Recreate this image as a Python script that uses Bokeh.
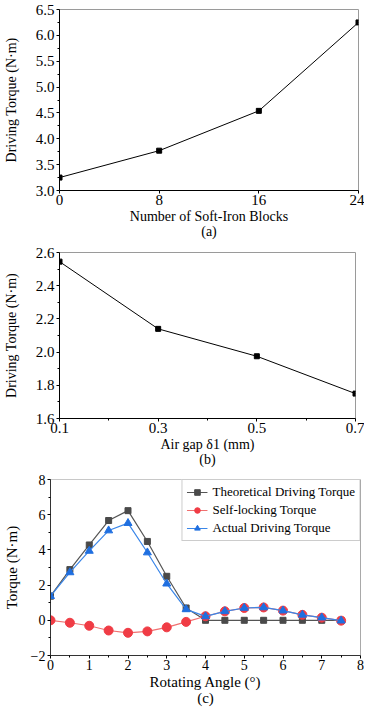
from bokeh.plotting import figure
from bokeh.layouts import column, row
from bokeh.models import FixedTicker, Span, Legend, LegendItem, Range1d, NumeralTickFormatter
from bokeh.embed import file_html
from bokeh.resources import INLINE

FONT = "Liberation Serif"

# ---- data (a)
blocks = [0, 8, 16, 24]
torque_a = [3.25, 3.77, 4.54, 6.25]
# ---- data (b)
gap = [0.1, 0.3, 0.5, 0.7]
torque_b = [2.545, 2.14, 1.975, 1.75]
# ---- data (c)
angle = [0, 0.5, 1, 1.5, 2, 2.5, 3, 3.5, 4, 4.5, 5, 5.5, 6, 6.5, 7, 7.5]
theoretical = [1.37, 2.88, 4.28, 5.67, 6.23, 4.48, 2.50, 0.70, 0, 0, 0, 0, 0, 0, 0, 0]
self_locking = [0, -0.14, -0.31, -0.58, -0.71, -0.63, -0.40, -0.09, 0.23, 0.51, 0.70, 0.73, 0.55, 0.31, 0.15, -0.02]
actual = [1.37, 2.72, 3.94, 5.10, 5.52, 3.85, 2.08, 0.62, 0.22, 0.51, 0.70, 0.73, 0.55, 0.31, 0.15, -0.02]

W = 364


def style(p, tick_size, label_size, ystandoff):
    p.background_fill_color = "white"
    p.border_fill_color = "white"
    p.grid.visible = False
    p.outline_line_color = "#9a9a9a"
    p.outline_line_width = 1
    for ax in (p.xaxis[0], p.yaxis[0]):
        ax.axis_line_color = "black"
        ax.major_tick_line_color = "black"
        ax.minor_tick_line_color = "black"
        ax.major_tick_in = 0
        ax.major_tick_out = 3
        ax.minor_tick_in = 0
        ax.minor_tick_out = 2
        ax.major_label_text_font = FONT
        ax.major_label_text_font_size = tick_size
        ax.major_label_text_color = "black"
        ax.axis_label_text_font = FONT
        ax.axis_label_text_font_size = label_size
        ax.axis_label_text_font_style = "normal"
        ax.axis_label_text_color = "black"
        ax.axis_label_text_line_height = 1.0
    p.xaxis[0].major_label_standoff = 1
    p.xaxis[0].axis_label_standoff = 1
    p.yaxis[0].major_label_standoff = 2
    p.yaxis[0].axis_label_standoff = ystandoff


# ---------------- (a)
pa = figure(width=W, height=244, output_backend="svg", toolbar_location=None,
            x_range=Range1d(0, 24), y_range=Range1d(3.0, 6.5),
            min_border_left=59, min_border_right=W - 358, min_border_top=9, min_border_bottom=54)
style(pa, "15px", "14px", 14)
pa.xaxis.axis_label = "Number of Soft-Iron Blocks\n(a)"
pa.yaxis.axis_label = "Driving Torque (N·m)"
pa.xaxis.ticker = FixedTicker(ticks=[0, 8, 16, 24], minor_ticks=[])
pa.yaxis.ticker = FixedTicker(ticks=[3.0, 3.5, 4.0, 4.5, 5.0, 5.5, 6.0, 6.5],
                              minor_ticks=[3.25, 3.75, 4.25, 4.75, 5.25, 5.75, 6.25])
pa.yaxis.formatter = NumeralTickFormatter(format="0.0")
pa.line(blocks, torque_a, line_color="black", line_width=1)
pa.scatter(blocks, torque_a, marker="square", size=5, fill_color="black", line_color="black")

# ---------------- (b)
pb = figure(width=W, height=227, output_backend="svg", toolbar_location=None,
            x_range=Range1d(0.1, 0.7), y_range=Range1d(1.6, 2.6),
            min_border_left=59, min_border_right=W - 355, min_border_top=8, min_border_bottom=53)
style(pb, "15px", "14px", 14)
pb.xaxis.axis_label = "Air gap δ1 (mm)\n(b)"
pb.yaxis.axis_label = "Driving Torque (N·m)"
pb.xaxis.ticker = FixedTicker(ticks=[0.1, 0.3, 0.5, 0.7], minor_ticks=[0.2, 0.4, 0.6])
pb.yaxis.ticker = FixedTicker(ticks=[1.6, 1.8, 2.0, 2.2, 2.4, 2.6],
                              minor_ticks=[1.7, 1.9, 2.1, 2.3, 2.5])
pb.xaxis.formatter = NumeralTickFormatter(format="0.0")
pb.yaxis.formatter = NumeralTickFormatter(format="0.0")
pb.line(gap, torque_b, line_color="black", line_width=1)
pb.scatter(gap, torque_b, marker="square", size=5, fill_color="black", line_color="black")

# ---------------- (c)
pc = figure(width=W, height=237, output_backend="svg", toolbar_location=None,
            x_range=Range1d(0, 8), y_range=Range1d(-2, 8),
            min_border_left=46, min_border_right=W - 360, min_border_top=8, min_border_bottom=53)
style(pc, "14px", "15px", 8)
pc.outline_line_color = "#c8c8c8"
pc.xaxis.axis_label = "Rotating Angle (°)\n(c)"
pc.yaxis.axis_label = "Torque (N·m)"
pc.xaxis.ticker = FixedTicker(ticks=list(range(0, 9)),
                              minor_ticks=[0.5, 1.5, 2.5, 3.5, 4.5, 5.5, 6.5, 7.5])
pc.yaxis.ticker = FixedTicker(ticks=[-2, 0, 2, 4, 6, 8], minor_ticks=[-1, 1, 3, 5, 7])
pc.xaxis.axis_line_color = "#333333"
pc.yaxis.axis_line_color = "#333333"
pc.add_layout(Span(location=8, dimension="height", line_color="#8a8a8a", line_width=1))

GRAY = "#555555"
RED = "#f03c45"
RED_LINE = "#f07070"
BLUE = "#1f6fe0"
BLUE_LINE = "#3a86e8"

l1 = pc.line(angle, theoretical, line_color=GRAY, line_width=1.2)
m1 = pc.scatter(angle, theoretical, marker="square", size=6, fill_color="#4a4a4a", line_color="#4a4a4a")
l2 = pc.line(angle, self_locking, line_color=RED_LINE, line_width=1.2)
m2 = pc.scatter(angle, self_locking, marker="circle", size=9, fill_color=RED, line_color=RED)
l3 = pc.line(angle, actual, line_color=BLUE_LINE, line_width=1.2)
m3 = pc.scatter(angle, actual, marker="triangle", size=8, fill_color=BLUE, line_color=BLUE)

leg = Legend(items=[
    LegendItem(label="Theoretical Driving Torque", renderers=[l1, m1]),
    LegendItem(label="Self-locking Torque", renderers=[l2, m2]),
    LegendItem(label="Actual Driving Torque", renderers=[l3, m3]),
], location="top_right")
leg.margin = 0
leg.padding = 4
leg.spacing = 2
leg.glyph_width = 21
leg.glyph_height = 14
leg.label_height = 14
leg.label_standoff = 5
leg.label_text_font = FONT
leg.label_text_font_size = "13px"
leg.label_text_color = "black"
leg.border_line_color = "#9a9a9a"
leg.border_line_width = 1
leg.background_fill_alpha = 1
pc.add_layout(leg)

layout = column(row(pa), row(pb), row(pc), spacing=0)
open("out.html", "w").write(file_html(layout, INLINE))
